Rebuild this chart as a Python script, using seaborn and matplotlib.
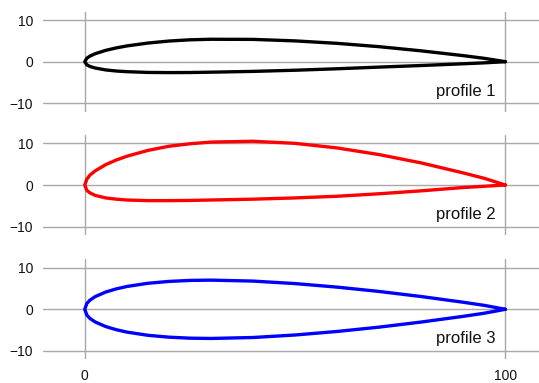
import numpy as np
import pandas as pd
import seaborn as sns
import matplotlib
matplotlib.use("Agg")
import matplotlib.pyplot as plt

# chord stations (percent of chord), shared by all three profiles
stations = [0, 0.5, 1.25, 2.5, 5, 7.5, 10, 15, 20, 25, 30, 40, 50, 60, 70, 80, 90, 95, 100]

# profile 1 (black)
upper1 = [0, 0.84, 1.35, 1.92, 2.72, 3.31, 3.78, 4.47, 4.95, 5.25, 5.38, 5.35, 4.99, 4.40, 3.60, 2.60, 1.45, 0.80, 0]
lower1 = [0, -0.76, -1.15, -1.52, -1.98, -2.24, -2.40, -2.58, -2.62, -2.60, -2.52, -2.33, -2.05, -1.70, -1.30, -0.92, -0.50, -0.28, 0]

# profile 2 (red)
upper2 = [0, 1.40, 2.40, 3.40, 4.90, 6.00, 6.90, 8.30, 9.30, 9.90, 10.30, 10.50, 10.00, 8.90, 7.30, 5.30, 2.90, 1.60, 0]
lower2 = [0, -1.30, -1.90, -2.50, -3.10, -3.40, -3.60, -3.75, -3.75, -3.70, -3.60, -3.40, -3.10, -2.70, -2.10, -1.40, -0.60, -0.30, 0]

# profile 3 (blue)
upper3 = [0, 1.40, 2.21, 3.05, 4.15, 4.90, 5.47, 6.24, 6.69, 6.93, 7.00, 6.77, 6.17, 5.32, 4.28, 3.06, 1.69, 0.94, 0]
lower3 = [0, -1.40, -2.21, -3.05, -4.15, -4.90, -5.47, -6.24, -6.69, -6.93, -7.00, -6.77, -6.17, -5.32, -4.28, -3.06, -1.69, -0.94, 0]

labels = ["profile 1", "profile 2", "profile 3"]
colors = ["black", "red", "blue"]
profiles = [(upper1, lower1), (upper2, lower2), (upper3, lower3)]

sns.set_theme(style="whitegrid", rc={"grid.color": "#a8a8a8", "grid.linewidth": 1.0})
plt.rcParams['font.family'] = ['Liberation Sans', 'DejaVu Sans']

fig = plt.figure(figsize=(5.39, 3.83), dpi=100)
bottoms = [0.7084, 0.3864, 0.0619]

for i, (up, lo) in enumerate(profiles):
    ax = fig.add_axes([0.0792, bottoms[i], 0.9208, 0.2611])
    # trailing edge -> upper -> leading edge -> lower -> trailing edge
    path = pd.DataFrame({
        "x": list(stations[::-1]) + list(stations[1:]),
        "y": list(up[::-1]) + list(lo[1:]),
    })
    sns.lineplot(data=path, x="x", y="y", sort=False, estimator=None,
                 color=colors[i], linewidth=2.4, solid_joinstyle="round", ax=ax)
    ax.set(xlim=(-10, 108), ylim=(-12, 12), xlabel="", ylabel="")
    ax.set_xticks([0, 100])
    ax.set_yticks([-10, 0, 10])
    ax.tick_params(axis="both", labelsize=10, pad=7, length=0, labelcolor="#111111")
    if i < 2:
        ax.set_xticklabels([])
    ax.text(97.6, -8.2, labels[i], ha="right", va="baseline", fontsize=12, color="#111111")
    sns.despine(ax=ax, left=True, bottom=True)

plt.savefig("out.png", dpi=100)
